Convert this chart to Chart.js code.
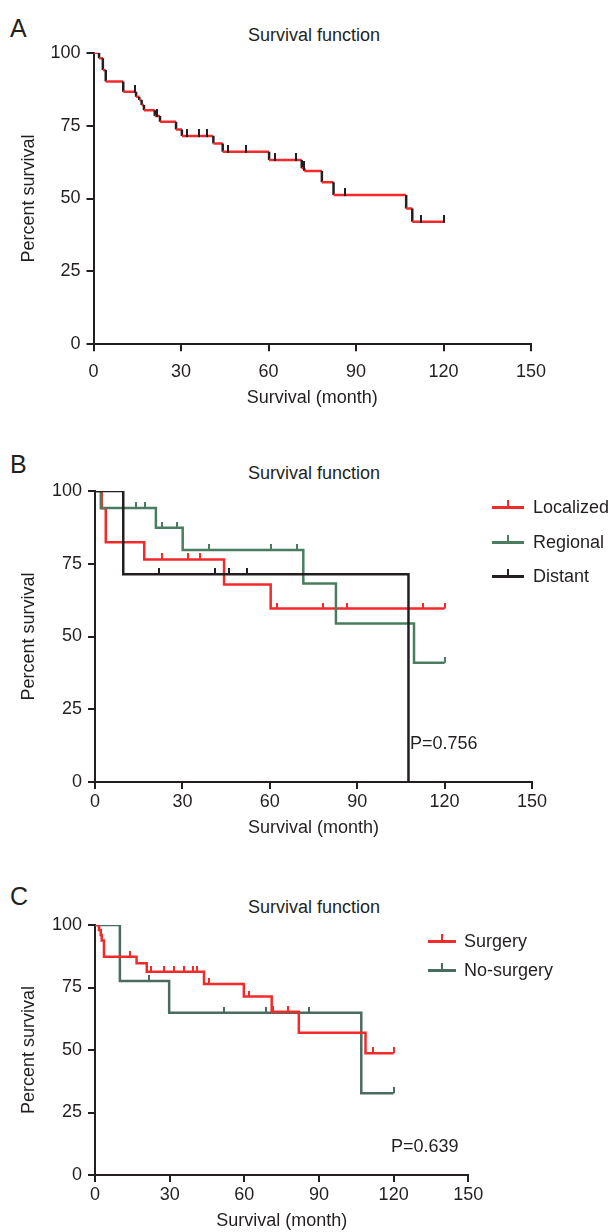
<!DOCTYPE html>
<html>
  <head>
    <meta charset="utf-8" />
    <title>Survival function</title>
    <style>
      body { margin: 0; background: #fff; }
      #page {
        position: relative; width: 616px; height: 1232px; overflow: hidden;
        font-family: "Liberation Sans", Arial, sans-serif; color: #231f20;
      }
      .box { position: absolute; left: 0; }
      .txt { position: absolute; font-size: 18px; line-height: 18px; white-space: nowrap; }
      .letter { position: absolute; left: 10px; font-size: 25px; line-height: 25px; }
      .title { left: 314px; transform: translateX(-50%); }
      .key { position: absolute; width: 32px; height: 2.5px; }
      .key i { position: absolute; left: 15px; top: -6px; width: 2px; height: 7px; background: inherit; }
      .key.short { width: 28px; }
      .key.short i { left: 13px; }
    </style>
  </head>
  <body>
    <div id="page">
      <div class="letter" style="top: 16px">A</div>
      <div class="txt title" style="top: 26px">Survival function</div>
      <div class="box" style="top: 0"><canvas id="chartA" width="616" height="420"></canvas></div>

      <div class="letter" style="top: 452px">B</div>
      <div class="txt title" style="top: 464px">Survival function</div>
      <div class="box" style="top: 430px"><canvas id="chartB" width="616" height="420"></canvas></div>
      <div class="key" style="left: 492px; top: 506px; background: #f22a2a"><i></i></div>
      <div class="txt" style="left: 533px; top: 498px">Localized</div>
      <div class="key" style="left: 492px; top: 541px; background: #4a7d5f"><i></i></div>
      <div class="txt" style="left: 533px; top: 533px">Regional</div>
      <div class="key" style="left: 492px; top: 575px; background: #231f20"><i></i></div>
      <div class="txt" style="left: 533px; top: 567px">Distant</div>
      <div class="txt" style="left: 410px; top: 734px">P=0.756</div>

      <div class="letter" style="top: 884px">C</div>
      <div class="txt title" style="top: 898px">Survival function</div>
      <div class="box" style="top: 870px"><canvas id="chartC" width="616" height="362"></canvas></div>
      <div class="key short" style="left: 428px; top: 940px; background: #f22a2a"><i></i></div>
      <div class="txt" style="left: 464px; top: 932px">Surgery</div>
      <div class="key short" style="left: 428px; top: 969px; background: #4b6b60"><i></i></div>
      <div class="txt" style="left: 464px; top: 961px">No-surgery</div>
      <div class="txt" style="left: 391px; top: 1137px">P=0.639</div>
    </div>

    <script src="https://cdn.jsdelivr.net/npm/chart.js"></script>
    <script>
      // A - all patients (event times in months, survival % after each drop)
      const aTimes = [1.9, 3.2, 4.2, 10.2, 14.6, 15.7, 16.5, 17.3, 21, 22.8, 28.3, 30.3, 41.1, 44.3, 60.2, 71.4, 72.3, 78.3, 82.3, 107.2, 109.3];
      const aSurv = [98.1, 94.1, 90.1, 86.6, 84.9, 83.8, 82.1, 80.3, 78.3, 76.3, 73.7, 71.4, 68.9, 66, 63.2, 60.4, 59.4, 55.6, 51.2, 46.6, 42];
      const aCensor = [14.2, 21.6, 32.2, 36.2, 39, 46.2, 52.3, 62.3, 69.4, 72, 86.3, 112.3, 120];

      // B - by stage
      const locTimes = [2.3, 3.7, 16.9, 44.3, 60.3];
      const locSurv = [94.1, 82.4, 76.5, 67.9, 59.6];
      const locCensor = [22.9, 32, 36, 62.4, 78.4, 86.4, 112.5, 120];
      const regTimes = [2, 20.9, 30.1, 71.5, 82.7, 109.5];
      const regSurv = [94.2, 87.4, 79.7, 68.2, 54.5, 41];
      const regCensor = [14.1, 17.2, 22.9, 28, 39.1, 60.3, 69.5, 120];
      const disTimes = [9.7, 107.6];
      const disSurv = [71.4, 0];
      const disCensor = [22, 41.2, 46.1, 52.1];

      // C - surgery vs no surgery
      const surTimes = [1.6, 2.3, 2.7, 3.6, 16.7, 20.8, 43.8, 59.8, 71, 81.9, 108.7];
      const surSurv = [98, 96, 93.8, 87.3, 84.7, 81.3, 76.4, 71.4, 65.3, 56.9, 48.7];
      const surCensor = [14, 22.4, 27.8, 31.8, 35.9, 39.2, 40.8, 45.8, 61.8, 71.5, 77.7, 111.8, 120];
      const nosTimes = [10, 29.8, 107];
      const nosSurv = [77.6, 64.9, 32.7];
      const nosCensor = [21.8, 51.8, 68.9, 85.8, 120];

      const endTime = 120;
      const xTicks = [0, 30, 60, 90, 120, 150];
      const yTicks = [0, 25, 50, 75, 100];

      const ink = "#231f20";
      const red = "#f22a2a";
      const green = "#4a7d5f";
      const slate = "#4b6b60";

      Chart.defaults.font.family = "'Liberation Sans', Arial, sans-serif";
      Chart.defaults.font.size = 18;
      Chart.defaults.color = ink;

      // step curve: horizontal to each event time, then drop
      function kmPoints(times, surv, end) {
        const pts = [{ x: 0, y: 100 }];
        let prev = 100;
        times.forEach((t, i) => {
          pts.push({ x: t, y: prev });
          pts.push({ x: t, y: surv[i] });
          prev = surv[i];
        });
        if (end > times[times.length - 1]) pts.push({ x: end, y: prev });
        return pts;
      }

      function survAt(times, surv, t) {
        let s = 100;
        times.forEach((tt, i) => { if (tt <= t) s = surv[i]; });
        return s;
      }

      function censorPoints(times, surv, cens) {
        return cens.map((t) => ({ x: t, y: survAt(times, surv, t) }));
      }

      // small vertical tick used as censor mark
      function tickMark(color, up, down) {
        const h = Math.max(up, down);
        const c = document.createElement("canvas");
        c.width = 2;
        c.height = h * 2;
        const g = c.getContext("2d");
        g.fillStyle = color;
        g.fillRect(0, h - up, 2, up + down);
        return c;
      }

      function lineSet(pts, color, order, extra) {
        return Object.assign({
          data: pts, borderColor: color, borderWidth: 2.5, pointRadius: 0,
          fill: false, tension: 0, order: order,
        }, extra || {});
      }

      function censorSet(pts, mark) {
        return { data: pts, showLine: false, pointStyle: mark, pointRadius: 3, order: 0 };
      }

      // xs = {height, padding} of the x axis block
      function makeChart(id, pad, yWidth, xs, datasets) {
        return new Chart(document.getElementById(id), {
          type: "line",
          data: { datasets: datasets },
          options: {
            responsive: false,
            animation: false,
            events: [],
            layout: { padding: pad },
            plugins: { legend: { display: false }, tooltip: { enabled: false } },
            scales: {
              x: {
                type: "linear", min: 0, max: 150,
                afterFit: (s) => { s.height = xs.height; },
                afterBuildTicks: (s) => { s.ticks = xTicks.map((v) => ({ value: v })); },
                ticks: { padding: xs.padding, color: ink },
                grid: { drawOnChartArea: false, tickLength: 7, color: ink, lineWidth: 2 },
                border: { color: ink, width: 2 },
                title: { display: true, text: "Survival (month)", color: ink, padding: { top: 0, bottom: 0 } },
              },
              y: {
                min: 0, max: 100,
                afterFit: (s) => { s.width = yWidth; },
                afterBuildTicks: (s) => { s.ticks = yTicks.map((v) => ({ value: v })); },
                ticks: { padding: 6, color: ink },
                grid: { drawOnChartArea: false, tickLength: 7, color: ink, lineWidth: 2 },
                border: { color: ink, width: 2 },
                title: { display: true, text: "Percent survival", color: ink, padding: { top: 18, bottom: 0 } },
              },
            },
          },
        });
      }

      // A: red horizontals, dark drops
      makeChart("chartA", { top: 52.7, bottom: 10.7, left: 0, right: 85 }, 93.5, { height: 65, padding: 10 }, [
        censorSet(censorPoints(aTimes, aSurv, aCensor), tickMark(ink, 7, 1)),
        lineSet(kmPoints(aTimes, aSurv, endTime), red, 1, {
          segment: { borderColor: (c) => (c.p0.parsed.x === c.p1.parsed.x ? ink : red) },
        }),
      ]);

      makeChart("chartB", { top: 61, bottom: 11, left: 0, right: 84 }, 95, { height: 57, padding: 2 }, [
        censorSet(censorPoints(disTimes, disSurv, disCensor), tickMark(ink, 6, 0)),
        censorSet(censorPoints(regTimes, regSurv, regCensor), tickMark(green, 6, 0)),
        censorSet(censorPoints(locTimes, locSurv, locCensor), tickMark(red, 6, 0)),
        lineSet(kmPoints(disTimes, disSurv, disTimes[disTimes.length - 1]), ink, 1),
        lineSet(kmPoints(regTimes, regSurv, endTime), green, 2),
        lineSet(kmPoints(locTimes, locSurv, endTime), red, 3),
      ]);

      makeChart("chartC", { top: 55, bottom: 0, left: 0, right: 147.7 }, 95, { height: 57, padding: 2 }, [
        censorSet(censorPoints(nosTimes, nosSurv, nosCensor), tickMark(slate, 6, 0)),
        censorSet(censorPoints(surTimes, surSurv, surCensor), tickMark(red, 6, 0)),
        lineSet(kmPoints(surTimes, surSurv, endTime), red, 1),
        lineSet(kmPoints(nosTimes, nosSurv, endTime), slate, 2),
      ]);
    </script>
  </body>
</html>
